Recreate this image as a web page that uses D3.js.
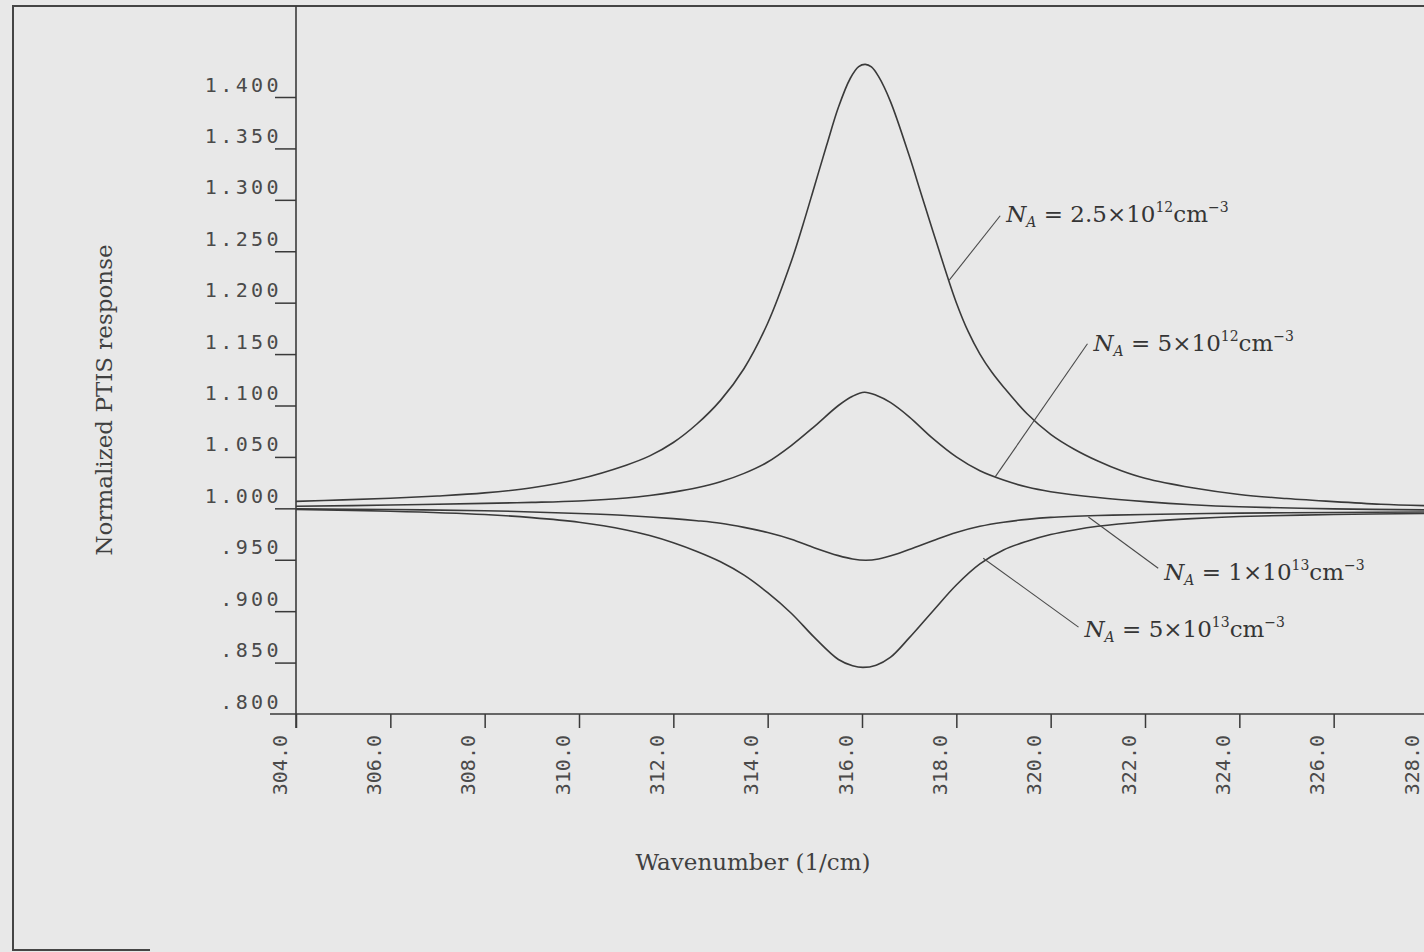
<!DOCTYPE html>
<html>
<head>
<meta charset="utf-8">
<script src="https://cdn.jsdelivr.net/npm/d3@7"></script>
<style>
  html, body { margin: 0; padding: 0; background: #e8e8e8; }
  svg { display: block; }
</style>
</head>
<body>
<div id="chart"></div>
<script>
// values: [wavenumber (1/cm), normalized response]
var na25e12 = [
  [304, 1.0068], [305, 1.0082], [306, 1.0098], [307, 1.0120], [308, 1.0150],
  [309, 1.0200], [310, 1.0285], [311, 1.0420], [311.5, 1.0510], [312, 1.0640],
  [312.5, 1.0820], [313, 1.1050], [313.5, 1.1360], [314, 1.1800], [314.5, 1.2400],
  [314.75, 1.2760], [315, 1.3145], [315.25, 1.3530], [315.5, 1.3900], [315.75, 1.4180],
  [315.93, 1.4295], [316.07, 1.4317], [316.2, 1.4292], [316.35, 1.4200], [316.6, 1.3960],
  [317, 1.3430], [317.25, 1.3065], [317.5, 1.2700], [317.75, 1.2340], [318, 1.2000],
  [318.25, 1.1720], [318.5, 1.1500], [318.75, 1.1325], [319, 1.1180], [319.5, 1.0920],
  [320, 1.0720], [320.5, 1.0575], [321, 1.0460], [321.5, 1.0365], [322, 1.0292],
  [323, 1.0200], [324, 1.0135], [325, 1.0095], [326, 1.0065], [327, 1.0040], [328, 1.0025]
];
var na5e12 = [
  [304, 1.0020], [306, 1.0032], [308, 1.0048], [309, 1.0058], [310, 1.0072],
  [311, 1.0100], [311.5, 1.0125], [312, 1.0158], [312.5, 1.0200], [313, 1.0258],
  [313.5, 1.0340], [314, 1.0450], [314.5, 1.0610], [315, 1.0800], [315.5, 1.1000],
  [315.8, 1.1090], [316.05, 1.1129], [316.3, 1.1100], [316.6, 1.1030], [317, 1.0890],
  [317.5, 1.0680], [318, 1.0500], [318.5, 1.0365], [319, 1.0275], [319.5, 1.0207],
  [320, 1.0162], [321, 1.0105], [322, 1.0065], [323, 1.0035], [324, 1.0015],
  [326, 0.9995], [328, 0.9985]
];
var na1e13 = [
  [304, 0.9995], [306, 0.9988], [308, 0.9977], [309, 0.9965], [310, 0.9950],
  [311, 0.9930], [312, 0.9900], [312.5, 0.9880], [313, 0.9855], [313.5, 0.9815],
  [314, 0.9765], [314.5, 0.9700], [315, 0.9615], [315.5, 0.9540], [315.8, 0.9507],
  [316.08, 0.9495], [316.35, 0.9507], [316.7, 0.9550], [317, 0.9600], [317.5, 0.9685],
  [318, 0.9765], [318.5, 0.9825], [319, 0.9865], [319.5, 0.9893], [320, 0.9912],
  [321, 0.9930], [322, 0.9940], [324, 0.9953], [326, 0.9960], [328, 0.9965]
];
var na5e13 = [
  [304, 0.9990], [306, 0.9972], [308, 0.9940], [309, 0.9910], [310, 0.9865],
  [311, 0.9790], [311.5, 0.9735], [312, 0.9665], [312.5, 0.9580], [313, 0.9480],
  [313.5, 0.9350], [314, 0.9180], [314.5, 0.8980], [315, 0.8740], [315.5, 0.8530],
  [315.8, 0.8470], [316.02, 0.8453], [316.3, 0.8475], [316.6, 0.8550], [317, 0.8740],
  [317.5, 0.9000], [318, 0.9255], [318.5, 0.9460], [319, 0.9595], [319.5, 0.9680],
  [320, 0.9745], [320.5, 0.9790], [321, 0.9825], [322, 0.9870], [323, 0.9900],
  [324, 0.9920], [326, 0.9940], [328, 0.9950]
];
var seriesList = [na25e12, na5e12, na1e13, na5e13];

var xTicks = [304, 306, 308, 310, 312, 314, 316, 318, 320, 322, 324, 326, 328];
var yTicks = [0.80, 0.85, 0.90, 0.95, 1.00, 1.05, 1.10, 1.15, 1.20, 1.25, 1.30, 1.35, 1.40];

// label text: mantissa, exponent; leader from point on curve to label point
var labelMantissa = ['2.5', '5', '1', '5'];
var labelExponent = ['12', '12', '13', '13'];
var leaderFrom = [[317.85, 1.2220], [318.82, 1.0304], [320.80, 0.9916], [318.57, 0.9515]];
var leaderTo = [[318.93, 1.2845], [320.78, 1.1600], [322.28, 0.9417], [320.59, 0.8845]];

var W = 1424, H = 952;
var svg = d3.select('#chart').append('svg').attr('width', W).attr('height', H);
svg.append('rect').attr('width', W).attr('height', H).attr('fill', '#e8e8e8');

var x = d3.scaleLinear().domain([304, 328]).range([296, 1428]);
var y = d3.scaleLinear().domain([0.8, 1.4]).range([714, 97]);
var ink = '#3a3a3a';
var mono = '"DejaVu Sans Mono", monospace';
var serif = '"DejaVu Serif", "Liberation Serif", serif';

// page frame
svg.append('path')
  .attr('d', 'M150,950H13V6H' + W)
  .attr('fill', 'none').attr('stroke', '#454545').attr('stroke-width', 2);

// axis lines
svg.append('line').attr('x1', 296).attr('x2', 296).attr('y1', 6).attr('y2', 728)
  .attr('stroke', ink).attr('stroke-width', 1.6);
svg.append('line').attr('x1', 270).attr('x2', W).attr('y1', 714).attr('y2', 714)
  .attr('stroke', ink).attr('stroke-width', 1.6);

var fmtY = function (d) { return d3.format('.3f')(d).replace(/^0/, ''); };
var yAxis = svg.append('g')
  .attr('transform', 'translate(296,0)')
  .call(d3.axisLeft(y).tickValues(yTicks).tickSize(21).tickSizeOuter(0).tickFormat(fmtY));
yAxis.select('.domain').remove();
yAxis.selectAll('.tick line')
  .attr('stroke', ink).attr('stroke-width', 1.5)
  .filter(function (d) { return d === 0.8; }).remove();
yAxis.selectAll('.tick text')
  .attr('x', -14).attr('y', -6).attr('dy', 0)
  .attr('font-family', mono).attr('font-size', 20).attr('letter-spacing', '3.4px')
  .attr('fill', '#4a4a4a');

var xAxis = svg.append('g')
  .attr('transform', 'translate(0,714)')
  .call(d3.axisBottom(x).tickValues(xTicks).tickSize(14).tickSizeOuter(0).tickFormat(d3.format('.1f')));
xAxis.select('.domain').remove();
xAxis.selectAll('.tick line').attr('stroke', ink).attr('stroke-width', 1.5);
xAxis.selectAll('.tick text')
  .attr('y', 0).attr('dy', 0)
  .attr('transform', 'translate(-10,21) rotate(-90)')
  .attr('text-anchor', 'end')
  .attr('font-family', mono).attr('font-size', 20).attr('letter-spacing', '0px')
  .attr('fill', '#4a4a4a');

// curves
var line = d3.line()
  .x(function (d) { return x(d[0]); })
  .y(function (d) { return y(d[1]); })
  .curve(d3.curveCatmullRom.alpha(0.5));
svg.append('defs').append('clipPath').attr('id', 'clip')
  .append('rect').attr('x', 296).attr('y', 6).attr('width', W - 296).attr('height', 708);
svg.append('g').attr('clip-path', 'url(#clip)')
  .selectAll('path.curve')
  .data(seriesList)
  .enter().append('path')
  .attr('class', 'curve')
  .attr('d', line)
  .attr('fill', 'none').attr('stroke', ink).attr('stroke-width', 1.6);

// axis titles
svg.append('text')
  .attr('transform', 'translate(112,400) rotate(-90)')
  .attr('text-anchor', 'middle')
  .attr('font-family', serif).attr('font-size', 23).attr('fill', '#404040')
  .text('Normalized PTIS response');
svg.append('text')
  .attr('x', 753).attr('y', 870)
  .attr('text-anchor', 'middle')
  .attr('font-family', serif).attr('font-size', 23).attr('fill', '#404040')
  .text('Wavenumber (1/cm)');

// curve labels with leader lines
var labelDy = [6, 7, 12, 10];
labelMantissa.forEach(function (m, i) {
  var p0 = leaderFrom[i], p1 = leaderTo[i];
  svg.append('line')
    .attr('x1', x(p0[0])).attr('y1', y(p0[1]))
    .attr('x2', x(p1[0])).attr('y2', y(p1[1]))
    .attr('stroke', '#4a4a4a').attr('stroke-width', 1.1);
  var t = svg.append('text')
    .attr('x', x(p1[0]) + 6).attr('y', y(p1[1]) + labelDy[i])
    .attr('font-family', serif).attr('font-size', 23).attr('fill', '#353535');
  t.append('tspan').attr('font-style', 'italic').text('N');
  t.append('tspan').attr('font-style', 'italic').attr('font-size', 14).attr('dy', 5).text('A');
  t.append('tspan').attr('dy', -5).text(' = ' + m + '\u00d710');
  t.append('tspan').attr('font-size', 14).attr('dy', -10).text(labelExponent[i]);
  t.append('tspan').attr('dy', 10).text('cm');
  t.append('tspan').attr('font-size', 14).attr('dy', -10).text('\u22123');
});
</script>
</body>
</html>
